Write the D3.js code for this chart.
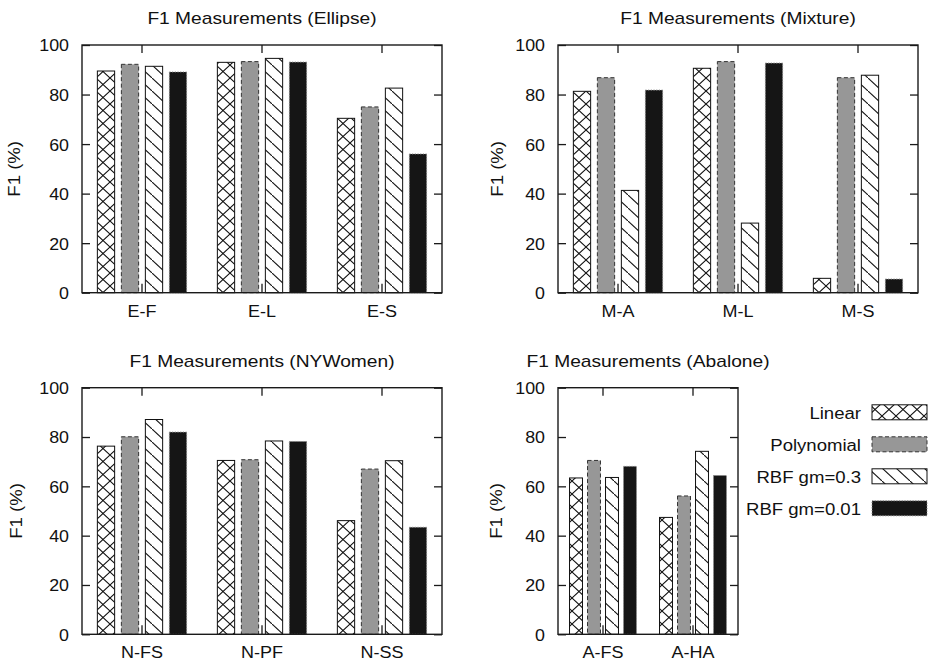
<!DOCTYPE html>
<head>
  <meta charset="utf-8">
  <title>F1 Measurements</title>
  <script src="https://d3js.org/d3.v7.min.js"></script>
  <style>
    body { margin: 0; background: #fff; }
    text { font-family: "Liberation Sans", Arial, sans-serif; fill: #111; }
  </style>
</head>
<body>
<script>
  // kernels (series) and shared ticks
  var kernels = ["Linear", "Polynomial", "RBF gm=0.3", "RBF gm=0.01"];
  var yTicks = [0, 20, 40, 60, 80, 100];

  // F1 (%) per category, one value per kernel
  var ellipseCats = ["E-F", "E-L", "E-S"];
  var ellipseF1 = [[89.5, 92.2, 91.4, 89.1], [93.0, 93.3, 94.6, 93.1], [70.4, 75.0, 82.6, 56.0]];
  var mixtureCats = ["M-A", "M-L", "M-S"];
  var mixtureF1 = [[81.3, 86.8, 41.3, 81.8], [90.6, 93.3, 28.1, 92.7], [5.8, 86.8, 87.8, 5.5]];
  var nyCats = ["N-FS", "N-PF", "N-SS"];
  var nyF1 = [[76.3, 80.1, 87.1, 82.0], [70.5, 70.8, 78.4, 78.2], [46.1, 67.0, 70.4, 43.4]];
  var abaloneCats = ["A-FS", "A-HA"];
  var abaloneF1 = [[63.4, 70.5, 63.6, 68.1], [47.4, 56.1, 74.2, 64.4]];

  var panels = [
    {title: "F1 Measurements (Ellipse)", cats: ellipseCats, vals: ellipseF1, left: 82, right: 442, top: 45, bottom: 292.7, ylx: 14},
    {title: "F1 Measurements (Mixture)", cats: mixtureCats, vals: mixtureF1, left: 558, right: 918, top: 45, bottom: 292.7, ylx: 497},
    {title: "F1 Measurements (NYWomen)", cats: nyCats, vals: nyF1, left: 82, right: 442, top: 387.7, bottom: 634.3, ylx: 16},
    {title: "F1 Measurements (Abalone)", cats: abaloneCats, vals: abaloneF1, left: 558, right: 738, top: 387.7, bottom: 634.3, ylx: 496}
  ];

  var barStyle = [
    {fill: "url(#cross)", stroke: "#111", dash: null},
    {fill: "#979797", stroke: "#333", dash: "4,2.5"},
    {fill: "url(#diag)", stroke: "#111", dash: null},
    {fill: "#151515", stroke: "#888", dash: "1.2,1.5"}
  ];

  var svg = d3.select("body").append("svg")
    .attr("width", 935)
    .attr("height", 662);

  var defs = svg.append("defs");
  var pc = defs.append("pattern").attr("id", "cross")
    .attr("patternUnits", "userSpaceOnUse").attr("width", 14).attr("height", 13);
  pc.append("rect").attr("width", 14).attr("height", 13).attr("fill", "#fff");
  pc.append("path").attr("d", "M0,0L14,13M0,13L14,0")
    .attr("stroke", "#111").attr("stroke-width", 1.1).attr("fill", "none");
  var pd = defs.append("pattern").attr("id", "diag")
    .attr("patternUnits", "userSpaceOnUse").attr("width", 14).attr("height", 13);
  pd.append("rect").attr("width", 14).attr("height", 13).attr("fill", "#fff");
  pd.append("path").attr("d", "M0,0L14,13")
    .attr("stroke", "#111").attr("stroke-width", 1.1).attr("fill", "none");

  // widen text horizontally (the original font is drawn wider than it is tall)
  function stretch(sel, sx) {
    sel.each(function() {
      var t = d3.select(this);
      var x = +t.attr("x") || 0, y = +t.attr("y") || 0;
      t.attr("x", 0).attr("y", 0)
        .attr("transform", "translate(" + x + "," + y + ") scale(" + sx + ",1)");
    });
  }

  function styleAxis(g) {
    g.select(".domain").remove();
    g.attr("color", "#1a1a1a").attr("font-family", null).attr("font-size", null);
    g.selectAll("line").attr("stroke-width", 1.3);
  }

  panels.forEach(function(p) {
    var g = svg.append("g");

    var x = d3.scaleBand().domain(p.cats).range([p.left, p.right]);
    var xk = d3.scaleBand().domain(kernels)
      .range([x.bandwidth() * 0.1, x.bandwidth() * 0.9])
      .paddingInner(0.28).paddingOuter(0.14);
    var y = d3.scaleLinear().domain([0, 100]).range([p.bottom, p.top]);

    // axes (ticks inside the frame)
    var ga = g.append("g").attr("transform", "translate(" + p.left + ",0)")
      .call(d3.axisLeft(y).tickValues(yTicks).tickSize(-8).tickPadding(13));
    styleAxis(ga);
    ga.selectAll("text").attr("font-size", "16.5px").attr("dy", "0.36em");
    stretch(ga.selectAll("text"), 1.08);

    var gr = g.append("g").attr("transform", "translate(" + p.right + ",0)")
      .call(d3.axisRight(y).tickValues(yTicks).tickSize(-8).tickFormat(""));
    styleAxis(gr);

    var gt = g.append("g").attr("transform", "translate(0," + p.top + ")")
      .call(d3.axisTop(x).tickSize(-8).tickFormat(""));
    styleAxis(gt);

    var gb = g.append("g").attr("transform", "translate(0," + p.bottom + ")")
      .call(d3.axisBottom(x).tickSize(-9).tickPadding(12));
    styleAxis(gb);
    gb.selectAll("text").attr("font-size", "17px");
    stretch(gb.selectAll("text"), 1.06);

    // bars
    var groups = g.selectAll(".grp").data(p.cats).enter().append("g")
      .attr("transform", function(c) { return "translate(" + x(c) + ",0)"; });
    groups.selectAll("rect").data(function(c, i) {
      return p.vals[i].map(function(v, k) { return {k: k, v: v}; });
    }).enter().append("rect")
      .attr("x", function(d) { return xk(kernels[d.k]); })
      .attr("width", xk.bandwidth())
      .attr("y", function(d) { return y(d.v); })
      .attr("height", function(d) { return y(0) - y(d.v); })
      .attr("fill", function(d) { return barStyle[d.k].fill; })
      .attr("stroke", function(d) { return barStyle[d.k].stroke; })
      .attr("stroke-dasharray", function(d) { return barStyle[d.k].dash; })
      .attr("stroke-width", 1);

    // frame
    g.append("rect")
      .attr("x", p.left).attr("y", p.top)
      .attr("width", p.right - p.left).attr("height", p.bottom - p.top)
      .attr("fill", "none").attr("stroke", "#1a1a1a").attr("stroke-width", 1.4);

    // title
    g.append("text")
      .attr("transform", "translate(" + (p.left + p.right) / 2 + "," + (p.top - 21) + ") scale(1.2,1)")
      .attr("text-anchor", "middle")
      .attr("font-size", "16px")
      .text(p.title);

    // y label
    g.append("text")
      .attr("transform", "translate(" + p.ylx + "," + (p.top + p.bottom) / 2 + ") rotate(-90) scale(1.16,1)")
      .attr("text-anchor", "middle")
      .attr("dy", "0.35em")
      .attr("font-size", "16px")
      .text("F1 (%)");
  });

  // legend
  var legend = svg.append("g");
  var legY = d3.scalePoint().domain(kernels).range([412.3, 508.3]);
  kernels.forEach(function(k, i) {
    legend.append("text")
      .attr("transform", "translate(861," + (legY(k) + 6.5) + ") scale(1.16,1)")
      .attr("text-anchor", "end")
      .attr("font-size", "16px")
      .text(k);
    legend.append("rect")
      .attr("x", 872).attr("y", legY(k) - 7.5)
      .attr("width", 55).attr("height", 15)
      .attr("fill", barStyle[i].fill)
      .attr("stroke", barStyle[i].stroke)
      .attr("stroke-dasharray", barStyle[i].dash)
      .attr("stroke-width", 1);
  });
</script>
</body>
